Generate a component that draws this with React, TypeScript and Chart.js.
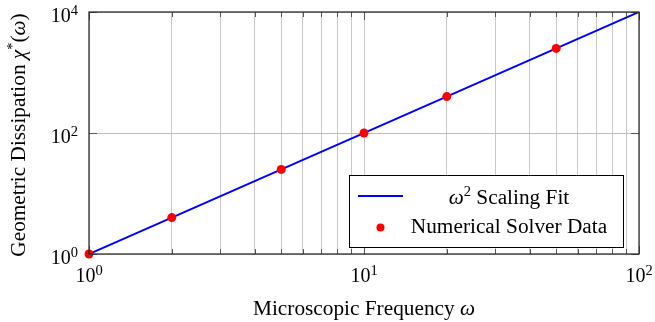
import React, { useEffect, useRef } from 'react';
import { Chart, registerables } from 'chart.js';
Chart.register(...registerables);

// ---- data ----
const fitOmega = [1, 100];
const fitChi = [1, 10000];
const solverOmega = [1, 2, 5, 10, 20, 50];
const solverChi = [1, 4, 25, 100, 400, 2500];
const xTickValues = [1, 2, 3, 4, 5, 6, 7, 8, 9, 10, 20, 30, 40, 50, 60, 70, 80, 90, 100];
const xMajorValues = [1, 10, 100];
const xMajorExponents = ['0', '1', '2'];
const yTickValues = [1, 100, 10000];
const yTickExponents = ['0', '2', '4'];
const fitLabel = 'Scaling Fit';
const solverLabel = 'Numerical Solver Data';
const xTitle = 'Microscopic Frequency ';
const yTitle = 'Geometric Dissipation ';

const SERIF = '"Liberation Serif", "Times New Roman", serif';
const F_TICK = `20px ${SERIF}`;
const F_MAIN = `21.3px ${SERIF}`;
const F_IT = `italic 21.3px ${SERIF}`;
const F_SUP = `14.5px ${SERIF}`;

type Seg = { t: string; f: string; dy?: number };

function segWidth(ctx: CanvasRenderingContext2D, segs: Seg[]) {
  let w = 0;
  for (const s of segs) {
    ctx.font = s.f;
    w += ctx.measureText(s.t).width;
  }
  return w;
}

function drawSegs(ctx: CanvasRenderingContext2D, segs: Seg[], x: number, y: number, align: 'left' | 'center' | 'right') {
  const w = segWidth(ctx, segs);
  let cx = align === 'left' ? x : align === 'center' ? x - w / 2 : x - w;
  ctx.textAlign = 'left';
  ctx.textBaseline = 'alphabetic';
  for (const s of segs) {
    ctx.font = s.f;
    ctx.fillText(s.t, cx, y + (s.dy || 0));
    cx += ctx.measureText(s.t).width;
  }
}

const pow = (e: string): Seg[] => [
  { t: '10', f: F_TICK },
  { t: e, f: F_SUP, dy: -7 },
];

const decorPlugin = {
  id: 'decor',
  afterDraw(chart: any) {
    const ctx: CanvasRenderingContext2D = chart.ctx;
    const { left, right, top, bottom } = chart.chartArea;
    const xs = chart.scales.x;
    const ys = chart.scales.y;
    ctx.save();
    // tick marks
    ctx.strokeStyle = '#555';
    ctx.lineWidth = 1;
    ctx.beginPath();
    for (const v of xTickValues) {
      const px = Math.round(xs.getPixelForValue(v)) + 0.5;
      const len = xMajorValues.includes(v) ? 8 : 5;
      ctx.moveTo(px, bottom);
      ctx.lineTo(px, bottom - len);
      ctx.moveTo(px, top);
      ctx.lineTo(px, top + len);
    }
    for (const v of yTickValues) {
      const py = Math.round(ys.getPixelForValue(v)) + 0.5;
      ctx.moveTo(left, py);
      ctx.lineTo(left + 8, py);
      ctx.moveTo(right, py);
      ctx.lineTo(right - 8, py);
    }
    ctx.stroke();
    // frame
    ctx.strokeStyle = '#222';
    ctx.lineWidth = 1.2;
    ctx.strokeRect(left, top, right - left, bottom - top);

    ctx.fillStyle = '#000';
    // x tick labels
    xMajorValues.forEach((v, i) => {
      const px = xs.getPixelForValue(v);
      drawSegs(ctx, pow(xMajorExponents[i]), px, bottom + 28, 'center');
    });
    // y tick labels
    yTickValues.forEach((v, i) => {
      const py = ys.getPixelForValue(v);
      drawSegs(ctx, pow(yTickExponents[i]), left - 11, py + 10, 'right');
    });
    // x title
    drawSegs(
      ctx,
      [
        { t: xTitle, f: F_MAIN },
        { t: 'ω', f: F_IT },
      ],
      (left + right) / 2,
      315,
      'center'
    );
    // y title
    ctx.save();
    ctx.translate(25, 135);
    ctx.rotate(-Math.PI / 2);
    drawSegs(
      ctx,
      [
        { t: yTitle, f: F_MAIN },
        { t: 'χ', f: F_IT },
        { t: '*', f: F_SUP, dy: -8 },
        { t: '(', f: F_MAIN },
        { t: 'ω', f: F_IT },
        { t: ')', f: F_MAIN },
      ],
      0,
      0,
      'center'
    );
    ctx.restore();

    // legend
    const lx = 349, ly = 175, lw = 274, lh = 72;
    ctx.fillStyle = '#fff';
    ctx.fillRect(lx, ly, lw, lh);
    ctx.strokeStyle = '#000';
    ctx.lineWidth = 1;
    ctx.strokeRect(lx + 0.5, ly + 0.5, lw, lh);
    ctx.strokeStyle = '#0000ff';
    ctx.lineWidth = 2;
    ctx.beginPath();
    ctx.moveTo(358, 196);
    ctx.lineTo(403, 196);
    ctx.stroke();
    ctx.fillStyle = '#ff0000';
    ctx.beginPath();
    ctx.arc(380.5, 227.5, 4, 0, Math.PI * 2);
    ctx.fill();
    ctx.fillStyle = '#000';
    drawSegs(
      ctx,
      [
        { t: 'ω', f: F_IT },
        { t: '2', f: F_SUP, dy: -8 },
        { t: ' ' + fitLabel, f: F_MAIN },
      ],
      509,
      204,
      'center'
    );
    drawSegs(ctx, [{ t: solverLabel, f: F_MAIN }], 509, 233, 'center');
    ctx.restore();
  },
};

export default function App() {
  const ref = useRef<HTMLCanvasElement | null>(null);
  useEffect(() => {
    if (!ref.current) return;
    const chart = new Chart(ref.current, {
      type: 'scatter',
      data: {
        datasets: [
          {
            label: solverLabel,
            data: solverOmega.map((x, i) => ({ x, y: solverChi[i] })),
            backgroundColor: '#ff0000',
            borderWidth: 0,
            pointRadius: 4.5,
            showLine: false,
            clip: false,
            order: 0,
          },
          {
            label: fitLabel,
            data: fitOmega.map((x, i) => ({ x, y: fitChi[i] })),
            borderColor: '#0000ff',
            borderWidth: 2,
            pointRadius: 0,
            showLine: true,
            order: 1,
          },
        ],
      },
      options: {
        animation: false,
        responsive: false,
        maintainAspectRatio: false,
        layout: { padding: { top: 12, right: 16, left: 0, bottom: 0 } },
        plugins: { legend: { display: false }, tooltip: { enabled: false } },
        scales: {
          x: {
            type: 'logarithmic',
            min: 1,
            max: 100,
            afterBuildTicks: (s: any) => {
              s.ticks = xTickValues.map((v) => ({ value: v }));
            },
            afterFit: (s: any) => {
              s.height = 68;
            },
            ticks: { display: false },
            grid: { color: '#c8c8c8', lineWidth: 1, drawTicks: false },
            border: { display: false },
          },
          y: {
            type: 'logarithmic',
            min: 1,
            max: 10000,
            afterBuildTicks: (s: any) => {
              s.ticks = yTickValues.map((v) => ({ value: v }));
            },
            afterFit: (s: any) => {
              s.width = 89;
            },
            ticks: { display: false },
            grid: { color: '#bdbdbd', lineWidth: 1, drawTicks: false },
            border: { display: false },
          },
        },
      } as any,
      plugins: [decorPlugin],
    });
    return () => chart.destroy();
  }, []);
  return (
    <div style={{ position: 'fixed', left: 0, top: 0, width: 655, height: 322, background: '#fff' }}>
      <canvas ref={ref} width={655} height={322} style={{ width: 655, height: 322 }} />
    </div>
  );
}
